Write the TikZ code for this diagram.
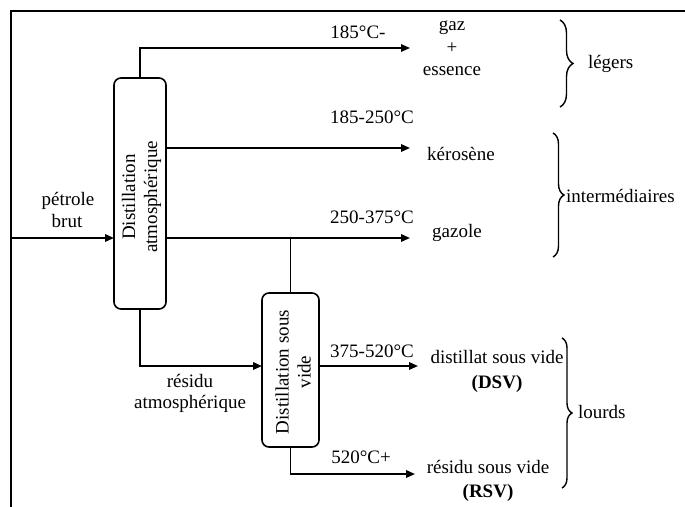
\documentclass[tikz,border=0pt]{standalone}
\usepackage{fontspec}
\setmainfont{Liberation Serif}
\usetikzlibrary{arrows.meta,decorations.pathreplacing}
\begin{document}
\begin{tikzpicture}[x=1pt,y=-1pt,
  every node/.style={font=\fontsize{19}{22}\selectfont, inner sep=0pt, outer sep=0pt},
  conn/.style={line width=1.7pt, -{Triangle[length=9pt,width=7.5pt]}},
  plain/.style={line width=1.7pt},
  stepbox/.style={draw, line width=1.6pt, rounded corners=7pt},
  lbl/.style={anchor=base},
  mybrace/.style={decorate, decoration={brace, amplitude=#1}, line width=1.4pt}]
\useasboundingbox (0,0) rectangle (685,506);
% frame
\draw[line width=2.8pt] (11,520) -- (11,11) -- (700,11);
% boxes
\node[stepbox, minimum width=52, minimum height=231] (atm) at (140,193.5) {};
\node[rotate=90, align=center] (atmtxt) at (141.5,197) {Distillation\\atmosphérique};
\node[stepbox, minimum width=57, minimum height=154] (vac) at (290.5,370) {};
\node[rotate=90, align=center] (vactxt) at (293,372) {Distillation sous\\vide};
% coordinates
\coordinate (t1) at (410,48);
\coordinate (k1) at (410,148);
\coordinate (g1) at (410,238);
\coordinate (p0) at (11,238);
\coordinate (rv) at (262,366);
\coordinate (d1) at (418,366);
\coordinate (r1) at (415,474);
% connectors
\draw[conn] (atm.north) |- (t1);
\draw[conn] (atm.east |- k1) -- (k1);
\draw[conn] (atm.east |- g1) -- (g1);
\draw[plain] (vac.north) -- (vac.north |- g1);
\draw[conn] (p0) -- (atm.west |- p0);
\draw[conn] (atm.south) |- (vac.west |- rv);
\draw[conn] (vac.east |- rv) -- (d1);
\draw[conn] (vac.south) |- (r1);
% labels
\node[lbl] (l185) at (358,38) {185°C-};
\node[lbl] (gaz) at (452,30) {gaz};
\node[lbl] (plus) at (452,53) {+};
\node[lbl] (ess) at (452,75) {essence};
\node[lbl] (l250) at (372,123) {185-250°C};
\node[lbl] (ker) at (461,160) {kérosène};
\node[lbl] (l375) at (372,223) {250-375°C};
\node[lbl] (gzl) at (457,237) {gazole};
\node[lbl] (pet) at (68,205) {pétrole};
\node[lbl] (brut) at (67,227) {brut};
\node[lbl] (res) at (190,387) {résidu};
\node[lbl] (atmo) at (190,408) {atmosphérique};
\node[lbl] (l520) at (372,357) {375-520°C};
\node[lbl] (dsv1) at (497,363) {distillat sous vide};
\node[lbl] (dsv2) at (497,388) {\bfseries(DSV)};
\node[lbl] (l520p) at (361,463) {520°C+};
\node[lbl] (rsv1) at (488,473) {résidu sous vide};
\node[lbl] (rsv2) at (488,497) {\bfseries(RSV)};
% braces
\coordinate (b1a) at (560,20);
\coordinate (b1b) at (560,107);
\draw[mybrace=13pt] (b1a) -- (b1b);
\node[anchor=base west] (leg) at (588,68) {légers};
\coordinate (b2a) at (553,133);
\coordinate (b2b) at (553,257);
\draw[mybrace=11pt] (b2a) -- (b2b);
\node[anchor=base west] (inter) at (566,202) {intermédiaires};
\coordinate (b3a) at (562,338);
\coordinate (b3b) at (562,488);
\draw[mybrace=10pt] (b3a) -- (b3b);
\node[anchor=base west] (lourds) at (578,418) {lourds};
\end{tikzpicture}
\end{document}
